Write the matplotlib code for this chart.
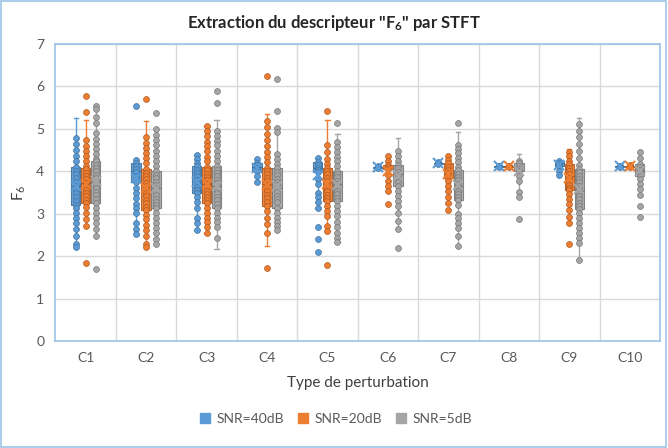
import matplotlib
matplotlib.use("Agg")
import matplotlib.pyplot as plt
from matplotlib.patches import Patch, Rectangle

plt.rcParams['font.family'] = ['Lato', 'DejaVu Sans']
plt.rcParams['mathtext.fontset'] = 'custom'
plt.rcParams['mathtext.rm'] = 'Lato'
plt.rcParams['mathtext.bf'] = 'Lato:bold'

categories = ['C1', 'C2', 'C3', 'C4', 'C5', 'C6', 'C7', 'C8', 'C9', 'C10']
series_names = ['SNR=40dB', 'SNR=20dB', 'SNR=5dB']
colors = ['#5B9BD5', '#ED7D31', '#A5A5A5']
edge_colors = ['#41719C', '#AE5A21', '#787878']

# --- SNR = 40 dB: box statistics ---
q1_40 = [3.21, 3.75, 3.50, 4.02, 3.98, 4.09, 4.18, 4.11, 4.13, 4.11]
med_40 = [3.66, 4.00, 3.85, 4.10, 4.08, 4.10, 4.19, 4.12, 4.20, 4.12]
q3_40 = [4.11, 4.19, 4.12, 4.19, 4.21, 4.11, 4.20, 4.13, 4.25, 4.13]
lo_40 = [2.20, 2.53, 2.61, 3.76, 3.13, 4.08, 4.17, 4.11, 3.92, 4.11]
hi_40 = [5.26, 4.27, 4.39, 4.28, 4.31, 4.12, 4.21, 4.13, 4.25, 4.13]
mean_40 = [3.66, 3.85, 3.75, 4.07, 3.92, 4.10, 4.19, 4.12, 4.15, 4.12]
pts_40 = [
    [4.79, 4.65, 4.51, 4.37, 4.24, 4.11, 4.02, 3.93, 3.84, 3.75, 3.66, 3.57, 3.48,
     3.39, 3.30, 3.21, 3.14, 3.02, 2.90, 2.79, 2.65, 2.47, 2.30, 2.22],
    [5.54, 4.27, 4.19, 4.12, 4.05, 3.98, 3.90, 3.82, 3.75, 3.62, 3.50, 3.37, 3.24,
     3.13, 3.02, 2.79, 2.65, 2.53],
    [4.39, 4.29, 4.19, 4.12, 4.04, 3.96, 3.88, 3.80, 3.72, 3.64, 3.57, 3.50, 3.39,
     3.27, 3.15, 2.90, 2.78, 2.61],
    [4.28, 4.19, 4.14, 4.09, 4.05, 4.02, 3.90, 3.76],
    [4.31, 4.21, 4.15, 4.09, 4.03, 3.98, 3.82, 3.70, 3.49, 3.39, 3.27, 3.13, 2.70,
     2.42, 2.11],
    [4.12, 4.10, 4.08],
    [4.21, 4.19, 4.17],
    [4.13, 4.12, 4.11],
    [4.25, 4.20, 4.16, 4.13, 4.02, 3.92],
    [4.13, 4.12, 4.11],
]

# --- SNR = 20 dB: box statistics ---
q1_20 = [3.26, 3.09, 3.25, 3.19, 3.31, 4.06, 3.84, 4.11, 3.57, 4.11]
med_20 = [3.72, 3.55, 3.70, 3.70, 3.75, 4.10, 4.05, 4.12, 3.90, 4.12]
q3_20 = [4.08, 4.05, 4.11, 4.09, 4.09, 4.15, 4.19, 4.13, 4.17, 4.13]
lo_20 = [2.71, 2.22, 2.56, 2.24, 2.60, 3.54, 3.26, 4.11, 2.79, 4.10]
hi_20 = [5.22, 5.19, 5.06, 5.35, 5.20, 4.37, 4.36, 4.13, 4.53, 4.14]
mean_20 = [3.70, 3.60, 3.70, 3.68, 3.70, 4.02, 3.95, 4.12, 3.85, 4.12]
pts_20 = [
    [5.78, 5.40, 4.73, 4.60, 4.49, 4.37, 4.25, 4.13, 4.05, 3.97, 3.89, 3.81, 3.73,
     3.65, 3.57, 3.49, 3.41, 3.33, 3.26, 3.16, 3.02, 2.87, 2.71, 1.85],
    [5.71, 4.81, 4.67, 4.55, 4.43, 4.32, 4.19, 4.05, 3.97, 3.89, 3.81, 3.73, 3.65,
     3.57, 3.49, 3.41, 3.33, 3.25, 3.17, 3.09, 2.98, 2.87, 2.75, 2.61, 2.47, 2.30,
     2.22],
    [5.06, 4.94, 4.83, 4.70, 4.59, 4.47, 4.35, 4.24, 4.11, 4.03, 3.95, 3.87, 3.79,
     3.71, 3.63, 3.55, 3.47, 3.39, 3.32, 3.25, 3.15, 3.03, 2.91, 2.80, 2.68, 2.56],
    [6.24, 5.18, 5.04, 4.88, 4.74, 4.59, 4.45, 4.33, 4.21, 4.09, 4.01, 3.93, 3.85,
     3.77, 3.69, 3.61, 3.53, 3.45, 3.37, 3.28, 3.19, 3.07, 2.91, 2.76, 2.56, 1.72],
    [5.41, 4.61, 4.45, 4.29, 4.17, 4.09, 4.01, 3.93, 3.85, 3.77, 3.69, 3.61, 3.53,
     3.45, 3.38, 3.31, 3.19, 3.07, 2.95, 2.72, 2.60, 1.80],
    [4.37, 4.25, 4.15, 4.10, 4.06, 3.91, 3.78, 3.66, 3.54, 3.23],
    [4.36, 4.27, 4.19, 4.11, 4.03, 3.96, 3.90, 3.84, 3.78, 3.66, 3.54, 3.40, 3.26,
     3.08],
    [4.13, 4.12, 4.11],
    [4.45, 4.36, 4.25, 4.17, 4.09, 4.01, 3.93, 3.85, 3.77, 3.69, 3.62, 3.57, 3.46,
     3.34, 3.23, 3.09, 2.93, 2.79, 2.30],
    [4.14, 4.12, 4.10],
]

# --- SNR = 5 dB: box statistics ---
q1_5 = [3.25, 3.13, 3.15, 3.15, 3.31, 3.65, 3.32, 4.00, 3.12, 3.90]
med_5 = [3.75, 3.60, 3.65, 3.60, 3.70, 3.95, 3.65, 4.10, 3.55, 4.05]
q3_5 = [4.24, 4.00, 4.12, 4.07, 4.02, 4.15, 4.03, 4.19, 4.06, 4.17]
lo_5 = [2.49, 2.29, 2.17, 2.61, 2.34, 2.65, 2.25, 3.40, 1.92, 3.58]
hi_5 = [5.59, 4.99, 5.22, 5.02, 4.88, 4.78, 4.93, 4.40, 5.26, 4.45]
mean_5 = [3.78, 3.60, 3.65, 3.65, 3.68, 3.88, 3.68, 4.02, 3.58, 4.00]
pts_5 = [
    [5.55, 5.46, 5.29, 5.13, 4.90, 4.77, 4.65, 4.53, 4.41, 4.29, 4.24, 4.16, 4.08,
     4.00, 3.92, 3.84, 3.76, 3.68, 3.60, 3.52, 3.44, 3.36, 3.25, 3.14, 3.02, 2.90,
     2.79, 2.65, 2.49, 1.71],
    [5.38, 4.99, 4.85, 4.73, 4.61, 4.49, 4.37, 4.25, 4.13, 4.00, 3.92, 3.84, 3.76,
     3.68, 3.60, 3.52, 3.44, 3.36, 3.28, 3.20, 3.13, 3.02, 2.90, 2.79, 2.67, 2.55,
     2.40, 2.29],
    [5.90, 5.61, 4.96, 4.84, 4.72, 4.61, 4.49, 4.37, 4.25, 4.12, 4.04, 3.96, 3.88,
     3.80, 3.72, 3.64, 3.56, 3.48, 3.40, 3.32, 3.24, 3.15, 3.03, 2.91, 2.80, 2.68,
     2.44],
    [6.18, 5.43, 5.02, 4.92, 4.41, 4.29, 4.17, 4.07, 3.99, 3.91, 3.83, 3.75, 3.67,
     3.59, 3.51, 3.43, 3.35, 3.27, 3.15, 3.03, 2.91, 2.80, 2.72, 2.61],
    [5.13, 4.70, 4.58, 4.46, 4.35, 4.24, 4.12, 4.02, 3.94, 3.86, 3.78, 3.70, 3.62,
     3.54, 3.46, 3.38, 3.31, 3.19, 3.07, 2.95, 2.80, 2.68, 2.56, 2.44, 2.34],
    [4.49, 4.37, 4.25, 4.15, 4.07, 3.99, 3.91, 3.83, 3.75, 3.65, 3.54, 3.43, 3.31,
     3.19, 3.02, 2.83, 2.65, 2.20],
    [5.13, 4.63, 4.53, 4.43, 4.32, 4.21, 4.11, 4.03, 3.95, 3.87, 3.79, 3.71, 3.63,
     3.55, 3.47, 3.39, 3.32, 3.22, 3.00, 2.90, 2.79, 2.67, 2.49, 2.25],
    [4.25, 4.19, 4.12, 4.06, 4.00, 3.90, 3.78, 3.52, 3.40, 2.88],
    [5.12, 4.96, 4.80, 4.65, 4.47, 4.31, 4.15, 4.06, 3.98, 3.90, 3.82, 3.74, 3.66,
     3.58, 3.50, 3.42, 3.34, 3.26, 3.19, 3.12, 3.03, 2.91, 2.79, 2.67, 2.55, 2.43,
     2.32, 1.92],
    [4.45, 4.31, 4.17, 4.10, 4.03, 3.96, 3.90, 3.82, 3.70, 3.58, 3.44, 3.19, 2.93],
]

y_ticks = [0, 1, 2, 3, 4, 5, 6, 7]

series_stats = [
    (q1_40, med_40, q3_40, lo_40, hi_40, mean_40, pts_40),
    (q1_20, med_20, q3_20, lo_20, hi_20, mean_20, pts_20),
    (q1_5, med_5, q3_5, lo_5, hi_5, mean_5, pts_5),
]

fig = plt.figure(figsize=(6.68, 4.48), dpi=100)
ax = fig.add_axes([0.083, 0.238, 0.905, 0.664])

offsets = [-0.165, 0.0, 0.165]
box_w = 0.155
txt_color = '#595959'

for s, (q1, med, q3, lo, hi, mean, pts) in enumerate(series_stats):
    col, ecol = colors[s], edge_colors[s]
    positions = [i + offsets[s] for i in range(len(categories))]
    stats = []
    for i in range(len(categories)):
        stats.append(dict(q1=q1[i], med=med[i], q3=q3[i], whislo=lo[i],
                          whishi=hi[i], mean=mean[i], fliers=[]))
    ax.bxp(stats, positions=positions, widths=box_w, patch_artist=True,
           showmeans=True, showfliers=False, capwidths=0.07,
           boxprops=dict(facecolor=col, edgecolor=ecol, linewidth=0.8, alpha=0.9),
           whiskerprops=dict(color=col, linewidth=1.0),
           capprops=dict(color=col, linewidth=1.0),
           medianprops=dict(color=ecol, linewidth=0.8),
           meanprops=dict(marker='x', markeredgecolor=col, markersize=7,
                          markeredgewidth=1.5, zorder=5),
           manage_ticks=False, zorder=3)
    for i, p in enumerate(pts):
        ax.scatter([positions[i]] * len(p), p, s=18, facecolor=col,
                   edgecolor=ecol, linewidth=0.5, zorder=4)

ax.set_xlim(-0.5, len(categories) - 0.5)
ax.set_ylim(0, 7)
ax.set_yticks(y_ticks)
ax.set_xticks(range(len(categories)))
ax.set_xticklabels(categories)
ax.set_xticks([i + 0.5 for i in range(len(categories) - 1)], minor=True)
ax.tick_params(axis='both', which='both', length=0, colors=txt_color,
               labelsize=10)
ax.tick_params(axis='x', pad=8)
ax.tick_params(axis='y', pad=8)
ax.grid(True, which='major', axis='y', color='#D9D9D9', linewidth=1.0, zorder=0)
ax.grid(True, which='minor', axis='x', color='#D9D9D9', linewidth=1.0, zorder=0)
ax.set_axisbelow(True)
for sp in ax.spines.values():
    sp.set_color('#9DC3E6')
    sp.set_linewidth(1.2)

ax.set_xlabel('Type de perturbation', fontsize=11, color='#404040', labelpad=8)
ax.set_ylabel(r'F$_{\mathregular{6}}$', fontsize=11, color='#404040', labelpad=6)

fig.suptitle(r'Extraction du descripteur "$\mathbf{F_6}$" par STFT',
             x=0.5, y=0.972, fontsize=12, fontweight='bold', color='#262626')

handles = [Patch(facecolor=c, edgecolor=c) for c in colors]
fig.legend(handles, series_names, loc='center', bbox_to_anchor=(0.503, 0.065),
           ncol=3, frameon=False, fontsize=10, handlelength=0.75,
           handleheight=0.75, handletextpad=0.45, columnspacing=1.0,
           labelcolor=txt_color)

fig.patches.append(Rectangle((0.002, 0.003), 0.995, 0.994, transform=fig.transFigure,
                             fill=False, edgecolor='#9DC3E6', linewidth=1.2))

fig.savefig('out.png', dpi=100)
